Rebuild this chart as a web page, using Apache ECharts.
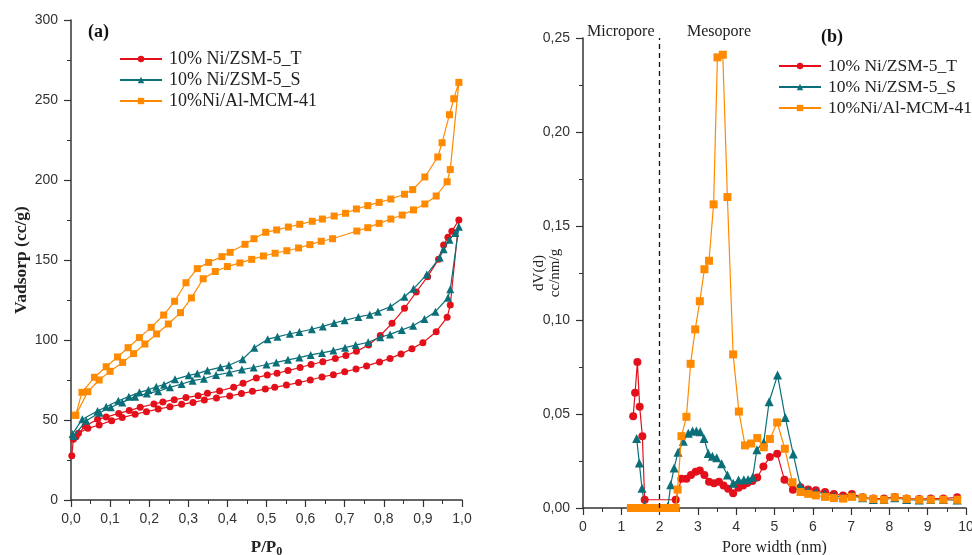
<!DOCTYPE html>
<html><head><meta charset="utf-8">
<script src="https://cdn.jsdelivr.net/npm/echarts@6/dist/echarts.min.js"></script>
<style>html,body{margin:0;padding:0;background:#fff}#c{width:972px;height:555px}</style>
</head><body><div id="c"></div>
<script>
// ---------- DATA ----------
const seriesNames = ['10% Ni/ZSM-5_T', '10% Ni/ZSM-5_S', '10%Ni/Al-MCM-41'];
const panelLabels = ['(a)', '(b)'];
const regionLabels = ['Micropore', 'Mesopore'];
const microporeLimit = 2;

// (a) isotherms: [P/P0, Vadsorp] along the drawn path (adsorption up, desorption down)
const isoT = [[0.002,27.7],[0.006,37.9],[0.019,41.7],[0.043,44.8],[0.072,46.9],[0.104,49.6],[0.131,51.5],[0.164,53.6],[0.193,55.2],[0.223,56.8],[0.253,58.3],[0.283,59.8],[0.312,61.0],[0.341,62.5],[0.372,63.8],[0.406,65.0],[0.436,66.5],[0.464,67.9],[0.497,69.3],[0.521,70.4],[0.551,71.8],[0.582,73.4],[0.612,75.0],[0.642,76.9],[0.671,78.3],[0.700,80.1],[0.729,81.9],[0.756,83.8],[0.789,86.3],[0.816,88.5],[0.844,91.3],[0.872,94.6],[0.900,98.3],[0.934,105.2],[0.962,114.2],[0.970,121.9],[0.992,175.0],[0.974,167.9],[0.964,164.2],[0.953,159.4],[0.940,150.4],[0.912,139.6],[0.883,130.0],[0.853,119.8],[0.821,110.4],[0.791,102.8],[0.761,96.9],[0.730,92.9],[0.703,90.3],[0.676,88.5],[0.644,86.4],[0.614,84.7],[0.586,82.8],[0.555,80.9],[0.527,79.2],[0.502,78.2],[0.474,76.3],[0.440,72.9],[0.416,70.5],[0.380,68.1],[0.349,66.7],[0.325,65.2],[0.294,64.0],[0.264,62.7],[0.235,61.3],[0.212,60.0],[0.177,57.9],[0.149,55.9],[0.122,54.1],[0.090,51.8],[0.068,50.4],[0.036,46.3],[0.013,39.6]];
const isoS = [[0.007,40.0],[0.039,49.5],[0.073,54.5],[0.102,58.0],[0.131,61.0],[0.164,64.6],[0.194,66.5],[0.223,68.0],[0.253,70.4],[0.283,72.5],[0.311,74.6],[0.340,75.8],[0.371,78.1],[0.405,79.7],[0.437,81.5],[0.467,82.8],[0.500,84.7],[0.525,86.0],[0.555,87.6],[0.584,89.0],[0.613,90.7],[0.642,91.9],[0.671,93.4],[0.701,95.2],[0.728,96.8],[0.760,98.6],[0.791,101.7],[0.816,103.5],[0.846,106.3],[0.875,108.9],[0.904,113.1],[0.932,117.7],[0.964,126.4],[0.970,131.7],[0.992,170.8],[0.983,166.9],[0.968,162.7],[0.953,156.7],[0.943,151.5],[0.910,141.0],[0.876,132.0],[0.853,127.0],[0.817,120.8],[0.785,117.7],[0.764,115.8],[0.735,114.4],[0.700,112.3],[0.673,110.6],[0.644,108.5],[0.616,106.7],[0.584,105.0],[0.560,103.9],[0.528,102.0],[0.503,100.5],[0.469,95.1],[0.439,88.0],[0.404,84.2],[0.382,82.9],[0.349,81.0],[0.323,79.0],[0.301,77.9],[0.266,75.4],[0.238,72.1],[0.218,70.8],[0.198,68.8],[0.175,67.3],[0.148,64.6],[0.121,62.0],[0.090,58.3],[0.068,55.6],[0.029,50.5],[0.004,41.3]];
const isoM = [[0.012,52.9],[0.043,67.7],[0.072,75.0],[0.100,80.4],[0.132,86.0],[0.160,91.5],[0.189,97.5],[0.219,103.8],[0.249,110.0],[0.280,117.1],[0.308,126.3],[0.338,138.3],[0.369,142.8],[0.400,145.9],[0.432,148.2],[0.462,150.4],[0.492,152.5],[0.522,154.2],[0.552,155.8],[0.582,157.5],[0.611,159.6],[0.640,161.7],[0.669,163.3],[0.731,168.1],[0.759,170.2],[0.788,172.9],[0.818,175.6],[0.847,178.1],[0.876,181.3],[0.905,185.0],[0.934,190.0],[0.962,198.9],[0.970,206.5],[0.992,261.0],[0.979,250.8],[0.968,240.8],[0.949,223.3],[0.938,214.4],[0.905,201.9],[0.874,194.0],[0.853,191.1],[0.818,188.1],[0.788,186.0],[0.759,184.0],[0.730,181.9],[0.702,179.2],[0.673,177.5],[0.643,175.6],[0.617,174.2],[0.585,172.3],[0.556,170.6],[0.526,168.8],[0.498,167.3],[0.468,163.3],[0.445,159.8],[0.407,154.8],[0.386,152.1],[0.352,148.5],[0.323,144.6],[0.294,135.8],[0.265,124.2],[0.237,115.6],[0.205,107.9],[0.175,101.5],[0.146,95.2],[0.119,89.4],[0.090,83.3],[0.060,76.7],[0.028,67.3],[0.012,53.0]];

// (b) pore size distributions: [pore width (nm), dV(d)]
const psdT = [[1.31,0.0488],[1.36,0.0613],[1.42,0.0776],[1.48,0.0538],[1.55,0.0382],[1.61,0.0044],[2.42,0.0044],[2.57,0.0155],[2.70,0.0155],[2.82,0.0175],[2.94,0.0193],[3.05,0.0200],[3.17,0.0175],[3.29,0.0140],[3.42,0.0132],[3.55,0.0140],[3.67,0.0120],[3.79,0.0102],[3.92,0.0079],[4.06,0.0108],[4.18,0.0120],[4.29,0.0133],[4.42,0.0144],[4.55,0.0162],[4.71,0.0221],[4.88,0.0271],[5.07,0.0289],[5.26,0.0150],[5.48,0.0097],[5.68,0.0110],[5.88,0.0098],[6.08,0.0094],[6.32,0.0085],[6.55,0.0075],[6.79,0.0067],[7.02,0.0075],[7.30,0.0057],[7.58,0.0050],[7.86,0.0050],[8.14,0.0059],[8.45,0.0050],[8.78,0.0048],[9.08,0.0050],[9.41,0.0050],[9.77,0.0057]];
const psdS = [[1.40,0.0370],[1.47,0.0240],[1.54,0.0105],[1.61,0.0010],[2.22,0.0010],[2.29,0.0124],[2.38,0.0213],[2.48,0.0297],[2.62,0.0355],[2.75,0.0398],[2.86,0.0410],[2.96,0.0410],[3.06,0.0405],[3.16,0.0370],[3.27,0.0290],[3.38,0.0275],[3.49,0.0267],[3.62,0.0235],[3.77,0.0175],[3.92,0.0131],[4.06,0.0149],[4.20,0.0150],[4.31,0.0151],[4.43,0.0163],[4.54,0.0310],[4.72,0.0350],[4.86,0.0565],[5.08,0.0707],[5.28,0.0482],[5.49,0.0287],[5.67,0.0120],[5.88,0.0090],[6.08,0.0085],[6.32,0.0075],[6.55,0.0065],[6.79,0.0058],[7.02,0.0068],[7.30,0.0055],[7.58,0.0045],[7.86,0.0045],[8.14,0.0055],[8.45,0.0045],[8.78,0.0042],[9.08,0.0045],[9.41,0.0045],[9.77,0.0042]];
const psdM = [[1.25,0],[1.35,0],[1.45,0],[1.55,0],[1.65,0],[1.75,0],[1.85,0],[1.95,0],[2.05,0],[2.15,0],[2.25,0],[2.35,0],[2.42,0],[2.47,0.0098],[2.57,0.0382],[2.70,0.0485],[2.81,0.0767],[2.93,0.0950],[3.05,0.1100],[3.17,0.1270],[3.29,0.1315],[3.41,0.1615],[3.51,0.2397],[3.65,0.2411],[3.77,0.1654],[3.92,0.0817],[4.07,0.0513],[4.23,0.0333],[4.39,0.0343],[4.55,0.0372],[4.72,0.0323],[4.88,0.0367],[5.07,0.0455],[5.27,0.0315],[5.47,0.0137],[5.68,0.0085],[5.88,0.0075],[6.08,0.0067],[6.32,0.0059],[6.55,0.0053],[6.79,0.0050],[7.02,0.0059],[7.30,0.0055],[7.58,0.0048],[7.86,0.0044],[8.14,0.0057],[8.45,0.0048],[8.78,0.0044],[9.08,0.0044],[9.41,0.0044],[9.77,0.0044]];

// ---------- STYLE ----------
const colors = ['#e3101b', '#0b6f79', '#ff8a00'];
const symbols = ['circle', 'triangle', 'rect'];
const sizesA = [7, 8, 7];
const sizesB = [8, 9, 8];
const SANS = 'Liberation Sans, Arial, sans-serif';
const SERIF = 'Liberation Serif, Times New Roman, serif';
const axisCol = '#333';

function axisCommon() {
  return {
    nameMoveOverlap: false,
    axisLine: { show: true, onZero: false, lineStyle: { color: axisCol, width: 1.5 } },
    axisTick: { show: true, length: 7, lineStyle: { color: axisCol, width: 1.2 } },
    minorTick: { show: true, splitNumber: 2, length: 4, lineStyle: { color: axisCol, width: 1 } },
    splitLine: { show: false },
    minorSplitLine: { show: false },
    axisLabel: { color: '#333', fontFamily: SANS, fontSize: 14, margin: 12 }
  };
}
const comma = (d) => (v) => v.toFixed(d).replace('.', ',');

const chart = echarts.init(document.getElementById('c'), null, { renderer: 'canvas' });

const dataA = [isoT, isoS, isoM];
const dataB = [psdT, psdS, psdM];
const series = [];
dataA.forEach((d, i) => series.push({
  name: seriesNames[i], type: 'line', xAxisIndex: 0, yAxisIndex: 0, data: d,
  symbol: symbols[i], symbolSize: sizesA[i], showSymbol: true,
  lineStyle: { color: colors[i], width: 1.2 }, itemStyle: { color: colors[i] }, z: 2 + i
}));
dataB.forEach((d, i) => {
  const s = {
    name: seriesNames[i], type: 'line', xAxisIndex: 1, yAxisIndex: 1, data: d,
    symbol: symbols[i], symbolSize: sizesB[i], showSymbol: true,
    lineStyle: { color: colors[i], width: 1.2 }, itemStyle: { color: colors[i] }, z: 2 + i
  };
  if (i === 0) {
    s.markLine = {
      silent: true, symbol: ['none', 'none'], label: { show: false },
      lineStyle: { color: '#111', type: [5, 4], width: 1.3 },
      data: [{ xAxis: microporeLimit }]
    };
  }
  series.push(s);
});

const legendBase = {
  orient: 'vertical', itemWidth: 42, itemHeight: 8, itemGap: 3,
  textStyle: { fontFamily: SERIF, fontSize: 18, color: '#222', padding: [0, 0, 0, 2] },
  data: seriesNames
};

chart.setOption({
  animation: false,
  backgroundColor: '#fff',
  grid: [
    { left: 71, top: 20, width: 391, height: 480, outerBoundsMode: 'none', containLabel: false },
    { left: 583, top: 38, width: 383, height: 470, outerBoundsMode: 'none', containLabel: false }
  ],
  legend: [
    Object.assign({}, legendBase, { left: 114, top: 45 }),
    Object.assign({}, legendBase, { left: 773, top: 52, textStyle: Object.assign({}, legendBase.textStyle, { fontSize: 17.5 }) })
  ],
  xAxis: [
    Object.assign(axisCommon(), {
      type: 'value', gridIndex: 0, min: 0, max: 1, interval: 0.1,
      axisLabel: Object.assign(axisCommon().axisLabel, { formatter: comma(1) }),
      name: '{a|P/P}{s|0}', nameLocation: 'middle', nameGap: 38,
      nameTextStyle: { rich: {
        a: { fontFamily: SERIF, fontWeight: 'bold', fontSize: 17, color: '#222' },
        s: { fontFamily: SERIF, fontWeight: 'bold', fontSize: 12, color: '#222', verticalAlign: 'bottom', padding: [8, 0, 0, 0] }
      } }
    }),
    Object.assign(axisCommon(), {
      type: 'value', gridIndex: 1, min: 0, max: 10, interval: 1,
      axisLabel: Object.assign(axisCommon().axisLabel, { formatter: (v) => String(v) }),
      name: 'Pore width (nm)', nameLocation: 'middle', nameGap: 32,
      nameTextStyle: { fontFamily: SERIF, fontSize: 16, color: '#222' }
    })
  ],
  yAxis: [
    Object.assign(axisCommon(), {
      type: 'value', gridIndex: 0, min: 0, max: 300, interval: 50,
      axisLabel: Object.assign(axisCommon().axisLabel, { margin: 13 }),
      name: 'Vadsorp (cc/g)', nameLocation: 'middle', nameGap: 41, nameRotate: 90,
      nameTextStyle: { fontFamily: SERIF, fontWeight: 'bold', fontSize: 17.5, color: '#222' }
    }),
    Object.assign(axisCommon(), {
      type: 'value', gridIndex: 1, min: 0, max: 0.25, interval: 0.05,
      axisLabel: Object.assign(axisCommon().axisLabel, { margin: 13, formatter: comma(2) }),
      name: 'dV(d)\ncc/nm/g', nameLocation: 'middle', nameGap: 20, nameRotate: 90,
      nameTextStyle: { fontFamily: SERIF, fontSize: 15, color: '#222', lineHeight: 16 }
    })
  ],
  graphic: [
    { type: 'text', left: 88, top: 23, style: { text: panelLabels[0], font: 'bold 18px ' + SERIF, fill: '#111' } },
    { type: 'text', left: 821, top: 28, style: { text: panelLabels[1], font: 'bold 18px ' + SERIF, fill: '#111' } },
    { type: 'text', left: 587, top: 24, style: { text: regionLabels[0], font: '16px ' + SERIF, fill: '#222' } },
    { type: 'text', left: 687, top: 24, style: { text: regionLabels[1], font: '16px ' + SERIF, fill: '#222' } }
  ],
  series: series
});
</script></body></html>
